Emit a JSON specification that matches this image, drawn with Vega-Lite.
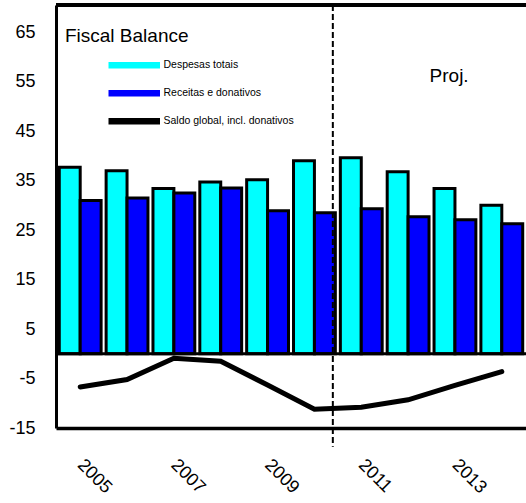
{
  "$schema": "https://vega.github.io/schema/vega-lite/v6.json",
  "width": 470,
  "height": 423,
  "autosize": {"type": "none"},
  "padding": {"left": 56, "top": 5, "right": 0, "bottom": 75},
  "config": {
    "view": {"stroke": null},
    "font": "Liberation Sans",
    "axis": {"labelColor": "black", "labelFont": "Liberation Sans"}
  },
  "datasets": {
    "fiscal": [
      {"year": "2005", "series": "Despesas totais", "value": 37.7},
      {"year": "2006", "series": "Despesas totais", "value": 37.0},
      {"year": "2007", "series": "Despesas totais", "value": 33.4},
      {"year": "2008", "series": "Despesas totais", "value": 34.7},
      {"year": "2009", "series": "Despesas totais", "value": 35.2},
      {"year": "2010", "series": "Despesas totais", "value": 39.0},
      {"year": "2011", "series": "Despesas totais", "value": 39.6},
      {"year": "2012", "series": "Despesas totais", "value": 36.8},
      {"year": "2013", "series": "Despesas totais", "value": 33.4},
      {"year": "2014", "series": "Despesas totais", "value": 30.0},
      {"year": "2005", "series": "Receitas e donativos", "value": 31.0},
      {"year": "2006", "series": "Receitas e donativos", "value": 31.5},
      {"year": "2007", "series": "Receitas e donativos", "value": 32.5},
      {"year": "2008", "series": "Receitas e donativos", "value": 33.5},
      {"year": "2009", "series": "Receitas e donativos", "value": 28.9},
      {"year": "2010", "series": "Receitas e donativos", "value": 28.5},
      {"year": "2011", "series": "Receitas e donativos", "value": 29.3},
      {"year": "2012", "series": "Receitas e donativos", "value": 27.7},
      {"year": "2013", "series": "Receitas e donativos", "value": 27.1},
      {"year": "2014", "series": "Receitas e donativos", "value": 26.3},
      {"year": "2005", "series": "Saldo global, incl. donativos", "value": -6.7},
      {"year": "2006", "series": "Saldo global, incl. donativos", "value": -5.2},
      {"year": "2007", "series": "Saldo global, incl. donativos", "value": -0.9},
      {"year": "2008", "series": "Saldo global, incl. donativos", "value": -1.5},
      {"year": "2009", "series": "Saldo global, incl. donativos", "value": -6.3},
      {"year": "2010", "series": "Saldo global, incl. donativos", "value": -11.2},
      {"year": "2011", "series": "Saldo global, incl. donativos", "value": -10.8},
      {"year": "2012", "series": "Saldo global, incl. donativos", "value": -9.3},
      {"year": "2013", "series": "Saldo global, incl. donativos", "value": -6.4},
      {"year": "2014", "series": "Saldo global, incl. donativos", "value": -3.6}
    ],
    "heading": [{"label": "Fiscal Balance"}],
    "note": [{"label": "Proj."}]
  },
  "layer": [
    {
      "data": {"name": "fiscal"},
      "transform": [{"filter": "datum.series !== 'Saldo global, incl. donativos'"}],
      "mark": {"type": "bar", "stroke": "black", "strokeWidth": 3},
      "encoding": {
        "x": {
          "field": "year",
          "type": "ordinal",
          "scale": {"paddingInner": 0.107, "paddingOuter": 0.07},
          "axis": {
            "title": null,
            "values": ["2005", "2007", "2009", "2011", "2013"],
            "ticks": false,
            "domainColor": "black",
            "domainWidth": 3.5,
            "labelAngle": 45,
            "labelAlign": "left",
            "labelBaseline": "middle",
            "labelPadding": 34,
            "labelFontSize": 18,
            "labelOverlap": false,
            "zindex": 1
          }
        },
        "xOffset": {
          "field": "series",
          "type": "nominal",
          "scale": {"paddingInner": 0, "paddingOuter": 0}
        },
        "y": {
          "field": "value",
          "type": "quantitative",
          "scale": {"domain": [-15, 70.5], "nice": false, "zero": false},
          "axis": {
            "title": null,
            "values": [-15, -5, 5, 15, 25, 35, 45, 55, 65],
            "labelExpr": "'' + datum.value",
            "grid": false,
            "domainColor": "black",
            "domainWidth": 3,
            "ticks": false,
            "labelPadding": 21,
            "labelFontSize": 18,
            "zindex": 1
          }
        },
        "y2": {"datum": 0},
        "color": {
          "field": "series",
          "type": "nominal",
          "scale": {
            "domain": ["Despesas totais", "Receitas e donativos", "Saldo global, incl. donativos"],
            "range": ["#00FFFF", "#0000FF", "#000000"]
          },
          "legend": {
            "title": null,
            "orient": "none",
            "legendX": 73,
            "legendY": 55,
            "padding": 0,
            "rowPadding": 16,
            "symbolType": "M-10,-1H10V1H-10Z",
            "symbolSize": 25,
            "symbolStrokeWidth": 1.5,
            "symbolOpacity": 1,
            "labelOffset": 24,
            "labelFont": "Liberation Sans",
            "labelFontSize": 10.5,
            "labelColor": "black",
            "labelLimit": 0
          }
        }
      }
    },
    {
      "data": {"name": "fiscal"},
      "transform": [{"filter": "datum.series === 'Saldo global, incl. donativos'"}],
      "mark": {"type": "line", "strokeWidth": 5, "strokeCap": "round"},
      "encoding": {
        "x": {"field": "year", "type": "ordinal"},
        "y": {"field": "value", "type": "quantitative"},
        "color": {"field": "series", "type": "nominal"}
      }
    },
    {
      "data": {"name": "note"},
      "mark": {"type": "rule", "color": "black", "strokeWidth": 3},
      "encoding": {"y": {"datum": 0}}
    },
    {
      "data": {"name": "note"},
      "mark": {"type": "rule", "color": "black", "strokeWidth": 4},
      "encoding": {"y": {"datum": 70.5}}
    },
    {
      "data": {"name": "note"},
      "mark": {"type": "rule", "color": "black", "strokeWidth": 2, "strokeDash": [6, 3]},
      "encoding": {
        "x": {"datum": "2010", "type": "ordinal", "bandPosition": 0.94},
        "y": {"datum": 70.5},
        "y2": {"datum": -18.8}
      }
    },
    {
      "data": {"name": "heading"},
      "mark": {"type": "text", "font": "Liberation Sans", "fontSize": 19, "color": "black", "align": "left", "baseline": "alphabetic"},
      "encoding": {
        "x": {"datum": "2005", "type": "ordinal", "bandPosition": 0.136},
        "y": {"datum": 63},
        "text": {"field": "label"}
      }
    },
    {
      "data": {"name": "note"},
      "mark": {"type": "text", "font": "Liberation Sans", "fontSize": 19, "color": "black", "align": "center", "baseline": "alphabetic"},
      "encoding": {
        "x": {"datum": "2013", "type": "ordinal", "bandPosition": 0.36},
        "y": {"datum": 55},
        "text": {"field": "label"}
      }
    }
  ]
}
